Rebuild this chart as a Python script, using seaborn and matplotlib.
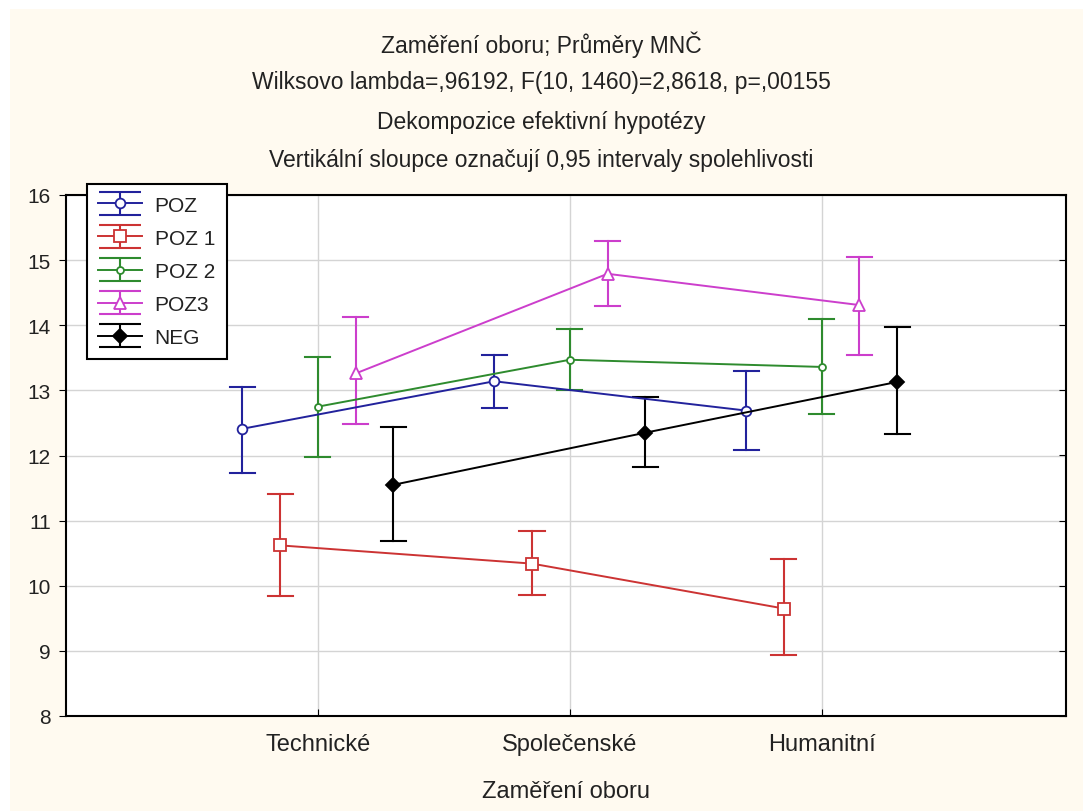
import pandas as pd
import matplotlib
matplotlib.use('Agg')
import matplotlib.pyplot as plt
import seaborn as sns
from matplotlib.patches import Rectangle
from matplotlib.lines import Line2D
from matplotlib.collections import LineCollection
from matplotlib.container import ErrorbarContainer
from matplotlib.legend_handler import HandlerErrorbar

# Values (means and 0.95 CI bounds)
obory = ['Technické', 'Společenské', 'Humanitní']
skupiny = ['POZ', 'POZ 1', 'POZ 2', 'POZ3', 'NEG']

poz_mean = [12.41, 13.14, 12.69]
poz_lo = [11.73, 12.73, 12.08]
poz_hi = [13.05, 13.55, 13.30]

poz1_mean = [10.62, 10.34, 9.65]
poz1_lo = [9.85, 9.86, 8.93]
poz1_hi = [11.41, 10.84, 10.41]

poz2_mean = [12.75, 13.47, 13.36]
poz2_lo = [11.98, 13.00, 12.63]
poz2_hi = [13.51, 13.94, 14.09]

poz3_mean = [13.26, 14.79, 14.31]
poz3_lo = [12.48, 14.30, 13.54]
poz3_hi = [14.12, 15.29, 15.05]

neg_mean = [11.55, 12.35, 13.13]
neg_lo = [10.69, 11.83, 12.33]
neg_hi = [12.43, 12.90, 13.97]

barvy = ['#22229c', '#cc3333', '#2e8b2e', '#cc3ecc', '#000000']
znacky = ['o', 's', 'o', '^', 'D']
otevrene = [True, True, True, True, False]
velikosti = [7, 8, 5, 8, 7]

series = {
    'POZ': (poz_lo, poz_mean, poz_hi),
    'POZ 1': (poz1_lo, poz1_mean, poz1_hi),
    'POZ 2': (poz2_lo, poz2_mean, poz2_hi),
    'POZ3': (poz3_lo, poz3_mean, poz3_hi),
    'NEG': (neg_lo, neg_mean, neg_hi),
}

# long table: lower bound, mean, upper bound per cell -> median = mean, min/max = CI
rows = []
for name, (lo, mean, hi) in series.items():
    for i, obor in enumerate(obory):
        for v in (lo[i], mean[i], hi[i]):
            rows.append({'obor': obor, 'skupina': name, 'hodnota': v})
df = pd.DataFrame(rows)

cream = '#fffaf0'
plt.rcParams['font.family'] = ['Liberation Sans', 'DejaVu Sans']

fig = plt.figure(figsize=(10.83, 8.12), dpi=100, facecolor='white')
fig.patches.append(Rectangle((10 / 1083, 0), 1, 1 - 10 / 812, transform=fig.transFigure,
                             facecolor=cream, edgecolor='none', zorder=-10))
ax = fig.add_axes([66 / 1083, 1 - 717 / 812, (1066 - 66) / 1083, (717 - 196) / 812])
ax.set_facecolor('white')

sns.pointplot(data=df, x='obor', y='hodnota', hue='skupina', order=obory, hue_order=skupiny,
              estimator='median', errorbar=('pi', 100), palette=barvy, markers=znacky,
              dodge=0.6, capsize=0.1, err_kws={'linewidth': 1.5}, linewidth=1.4,
              legend=False, ax=ax)

# marker styling per group
for line in ax.lines:
    m = line.get_marker()
    if m in (None, 'None', '', ' '):
        continue
    c = matplotlib.colors.to_hex(line.get_color())
    idx = barvy.index(c) if c in barvy else 4
    line.set_markersize(velikosti[idx])
    line.set_markeredgewidth(1.3)
    if otevrene[idx]:
        line.set_markerfacecolor('white')
    line.set_zorder(3)

ax.set_xlim(-1, 2.97)
ax.set_ylim(8, 16)
ax.set_yticks(range(8, 17))
ax.set_axisbelow(True)
ax.grid(True, color='#d4d4d4', linewidth=1)
for sp in ax.spines.values():
    sp.set_color('black')
    sp.set_linewidth(1.5)
ax.tick_params(axis='x', direction='in', length=5, labelsize=17, pad=12, colors='black',
               labelcolor='#222222')
ax.tick_params(axis='y', direction='out', length=5, labelsize=15, pad=6, labelcolor='#222222')

# right side ticks pointing inward
tw = ax.twinx()
tw.set_ylim(8, 16)
tw.set_yticks(range(8, 17))
tw.tick_params(axis='y', direction='in', length=5, labelright=False)
tw.grid(False)
for sp in tw.spines.values():
    sp.set_visible(False)

ax.set_xlabel('Zaměření oboru', fontsize=17, color='#222222', labelpad=18)
ax.set_ylabel('')

# legend with error bar symbols
handles = []
for name, c, m, o, s in zip(skupiny, barvy, znacky, otevrene, velikosti):
    dl = Line2D([], [], color=c, marker=m, markersize=s, markeredgewidth=1.3,
                markerfacecolor='white' if o else c, linewidth=1.4)
    cap = Line2D([], [], color=c, marker='_', markersize=30, markeredgewidth=1.5)
    bar = LineCollection([], colors=c, linewidths=1.5)
    handles.append(ErrorbarContainer((dl, (cap, cap), (bar,)), has_xerr=False, has_yerr=True,
                                     label=name))
leg = tw.legend(handles=handles, labels=skupiny, loc='upper left',
                bbox_to_anchor=(0.021, 1.021), fontsize=15, frameon=True, fancybox=False,
                edgecolor='black', facecolor='white', framealpha=1, handlelength=2.1,
                handletextpad=0.6, labelspacing=0.68, borderpad=0.55, borderaxespad=0,
                handler_map={ErrorbarContainer: HandlerErrorbar(yerr_size=0.55)})
leg.get_frame().set_linewidth(1.5)
for t in leg.get_texts():
    t.set_color('#222222')

titulky = ['Zaměření oboru; Průměry MNČ',
           'Wilksovo lambda=,96192, F(10, 1460)=2,8618, p=,00155',
           'Dekompozice efektivní hypotézy',
           'Vertikální sloupce označují 0,95 intervaly spolehlivosti']
for text, ypx in zip(titulky, [45, 83, 122, 160]):
    fig.text(0.5, 1 - ypx / 812, text, ha='center', va='center', fontsize=16.5, color='#222222')

fig.savefig('out.png', dpi=100, facecolor=fig.get_facecolor())
